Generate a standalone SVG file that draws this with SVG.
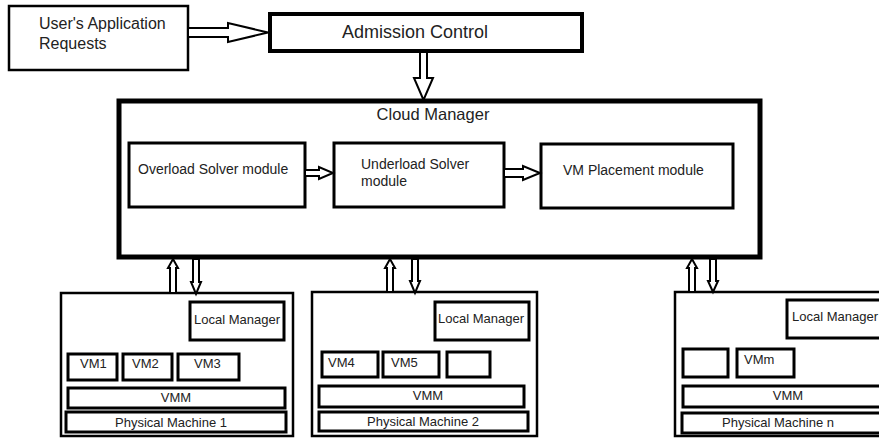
<svg xmlns="http://www.w3.org/2000/svg" width="879" height="439" viewBox="0 0 879 439">
<style>
  .b{fill:#fff;stroke:#000}
  .t{font-family:"Liberation Sans",Arial,sans-serif;fill:#222}
  .s13{font-size:13px}
  .s14{font-size:14px}
  .ar{fill:#fff;stroke:#000;stroke-width:2;stroke-linejoin:miter}
</style>
<rect width="879" height="439" fill="#fff"/>
<g id="user-requests">
  <rect class="b" x="9" y="6" width="179" height="64" stroke-width="2.5"/>
  <text class="t" x="39" y="29" font-size="16">User's Application</text>
  <text class="t" x="39" y="49" font-size="16">Requests</text>
</g>
<g id="admission-control">
  <rect class="b" x="270" y="14" width="312" height="37" stroke-width="4"/>
  <text class="t" x="415" y="38" font-size="18" text-anchor="middle">Admission Control</text>
</g>
<g id="cloud-manager">
  <rect class="b" x="119" y="101" width="641" height="156" stroke-width="5"/>
  <text class="t" x="433" y="120" font-size="16.5" text-anchor="middle">Cloud Manager</text>
</g>
<g id="overload-solver">
  <rect class="b" x="129" y="143" width="176" height="64" stroke-width="3"/>
  <text class="t s14" x="138" y="174">Overload Solver module</text>
</g>
<g id="underload-solver">
  <rect class="b" x="334" y="143" width="170" height="64" stroke-width="3"/>
  <text class="t s14" x="361" y="169">Underload Solver</text>
  <text class="t s14" x="361" y="186">module</text>
</g>
<g id="vm-placement">
  <rect class="b" x="541" y="144" width="192" height="64" stroke-width="3"/>
  <text class="t s14" x="563" y="175">VM Placement module</text>
</g>
<g id="pm1">
  <rect class="b" x="61" y="293" width="232" height="143" stroke-width="2.5"/>
  <rect class="b" x="190" y="302" width="94" height="38" stroke-width="3"/>
  <text class="t s13" x="194" y="324">Local Manager</text>
  <rect class="b" x="68" y="354" width="49" height="26" stroke-width="3"/>
  <text class="t s13" x="80" y="368">VM1</text>
  <rect class="b" x="123" y="354" width="49" height="26" stroke-width="3"/>
  <text class="t s13" x="132" y="368">VM2</text>
  <rect class="b" x="178" y="354" width="61" height="26" stroke-width="3"/>
  <text class="t s13" x="194" y="368">VM3</text>
  <rect class="b" x="68" y="388" width="217" height="20" stroke-width="3"/>
  <text class="t s13" x="176" y="402" text-anchor="middle">VMM</text>
  <rect class="b" x="66" y="412" width="220" height="20" stroke-width="3"/>
  <text class="t s13" x="171" y="427" text-anchor="middle">Physical Machine 1</text>
</g>
<g id="pm2">
  <rect class="b" x="312" y="292" width="225" height="144" stroke-width="2.5"/>
  <rect class="b" x="435" y="302" width="94" height="38" stroke-width="3"/>
  <text class="t s13" x="438" y="323">Local Manager</text>
  <rect class="b" x="322" y="352" width="56" height="25" stroke-width="3"/>
  <text class="t s13" x="328" y="367">VM4</text>
  <rect class="b" x="383" y="352" width="56" height="25" stroke-width="3"/>
  <text class="t s13" x="391" y="367">VM5</text>
  <rect class="b" x="447" y="352" width="43" height="25" stroke-width="3"/>
  <rect class="b" x="319" y="386" width="205" height="21" stroke-width="3"/>
  <text class="t s13" x="428" y="400" text-anchor="middle">VMM</text>
  <rect class="b" x="319" y="412" width="209" height="19" stroke-width="3"/>
  <text class="t s13" x="423" y="426" text-anchor="middle">Physical Machine 2</text>
</g>
<g id="pmn">
  <rect class="b" x="675" y="292" width="230" height="144" stroke-width="2.5"/>
  <rect class="b" x="787" y="300" width="100" height="38" stroke-width="3"/>
  <text class="t s13" x="792" y="321">Local Manager</text>
  <rect class="b" x="683" y="349" width="45" height="28" stroke-width="3"/>
  <rect class="b" x="737" y="349" width="57" height="28" stroke-width="3"/>
  <text class="t s13" x="744" y="364">VMm</text>
  <rect class="b" x="683" y="386" width="210" height="21" stroke-width="3"/>
  <text class="t s13" x="788" y="400" text-anchor="middle">VMM</text>
  <rect class="b" x="682" y="413" width="210" height="20" stroke-width="3"/>
  <text class="t s13" x="778" y="427" text-anchor="middle">Physical Machine n</text>
</g>
<g id="connectors">
  <polygon class="ar" points="188,28 228,28 228,23 268,32.5 228,42 228,37 188,37"/>
  <polygon class="ar" points="420,52 427,52 427,78 433,78 423.5,100 414,78 420,78"/>
  <polygon class="ar" points="305,170 319,170 319,167 333,173 319,179 319,176 305,176"/>
  <polygon class="ar" points="504,169 523,169 523,166 540,173 523,180 523,177 504,177"/>
  <polygon class="ar" points="170,293 170,268 168,268 173,259 178,268 176,268 176,293"/>
  <polygon class="ar" points="193,259 199,259 199,282 201,282 196,294 191,282 193,282"/>
  <polygon class="ar" points="387,292 387,268 385,268 390,259 395,268 393,268 393,292"/>
  <polygon class="ar" points="412,259 418,259 418,281 420,281 415,293 410,281 412,281"/>
  <polygon class="ar" points="689,292 689,268 687,268 692,259 697,268 695,268 695,292"/>
  <polygon class="ar" points="710,259 716,259 716,281 718,281 713,292 708,281 710,281"/>
</g>
</svg>
